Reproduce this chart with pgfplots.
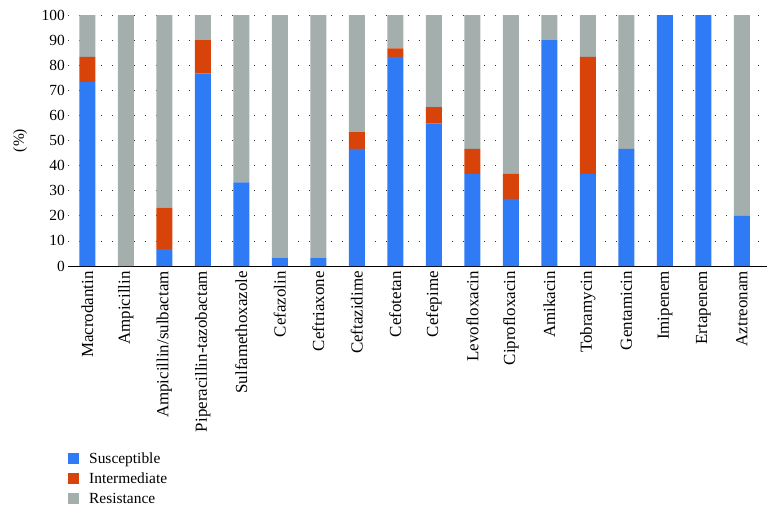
\documentclass[border=0pt]{standalone}
\usepackage{pgfplots}
\pgfplotsset{compat=1.18}
\usepackage{fontspec}
\setmainfont{Liberation Serif}
\definecolor{sus}{RGB}{47,123,246}
\definecolor{inter}{RGB}{216,67,10}
\definecolor{res}{RGB}{164,174,173}
\newcommand{\ff}{\fontsize{15.5}{18}\selectfont}
\newcommand{\fx}{\fontsize{17}{19}\selectfont}
\begin{document}
\begin{tikzpicture}[x=1bp,y=1bp]
\begin{axis}[
  at={(0,0)}, anchor=south west,
  scale only axis,
  width=699bp, height=251bp,
  ybar stacked,
  bar width=16bp,
  xmin=-0.5, xmax=17.65,
  ymin=0, ymax=100,
  ytick={0,10,...,100},
  xtick=data,
  xticklabels={Macrodantin,Ampicillin,Ampicillin/sulbactam,Piperacillin-tazobactam,Sulfamethoxazole,Cefazolin,Ceftriaxone,Ceftazidime,Cefotetan,Cefepime,Levofloxacin,Ciprofloxacin,Amikacin,Tobramycin,Gentamicin,Imipenem,Ertapenem,Aztreonam},
  xticklabel style={rotate=90, anchor=east, font=\fx, inner sep=5bp},
  yticklabel style={font=\ff, inner sep=3bp},
  /pgf/number format/assume math mode=true,
  axis x line*=bottom,
  axis y line*=left,
  y axis line style={draw=none},
  ymajorgrids,
  grid style={black!80, line width=0.7pt, dash pattern=on 0.8pt off 10.2pt},
  major tick length=0pt,
  x axis line style={line width=0.8pt, -},
  ylabel={(\%)},
  ylabel shift=8bp,
  ylabel style={font=\ff},
  legend style={at={(0,-0.735)}, anchor=north west, draw=none, font=\ff, row sep=4bp, cells={anchor=west}, inner sep=0pt},
  legend image code/.code={\fill[#1, draw=none] (0bp,-5.5bp) rectangle (11bp,5.5bp); \path (19bp,0);},
]
\addplot[fill=sus, draw=none] coordinates {(0,73.3) (1,0) (2,6.7) (3,76.7) (4,33.3) (5,3.3) (6,3.3) (7,46.7) (8,83.3) (9,56.7) (10,36.7) (11,26.7) (12,90) (13,36.7) (14,46.7) (15,100) (16,100) (17,20)};
\addplot[fill=inter, draw=none] coordinates {(0,10) (1,0) (2,16.6) (3,13.3) (4,0) (5,0) (6,0) (7,6.6) (8,3.4) (9,6.6) (10,10) (11,10) (12,0) (13,46.6) (14,0) (15,0) (16,0) (17,0)};
\addplot[fill=res, draw=none] coordinates {(0,16.7) (1,100) (2,76.7) (3,10) (4,66.7) (5,96.7) (6,96.7) (7,46.7) (8,13.3) (9,36.7) (10,53.3) (11,63.3) (12,10) (13,16.7) (14,53.3) (15,0) (16,0) (17,80)};
\legend{Susceptible,Intermediate,Resistance}
\end{axis}
\pgfresetboundingbox
\path (-68bp,-250bp) rectangle (702bp,266bp);
\end{tikzpicture}
\end{document}
